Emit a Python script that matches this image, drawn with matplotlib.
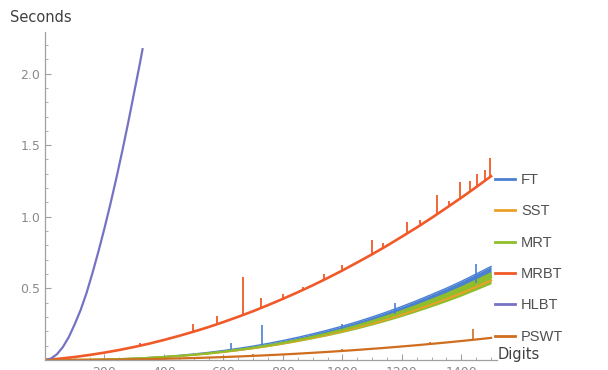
import numpy as np
import matplotlib
matplotlib.use('Agg')
import matplotlib.pyplot as plt
from matplotlib.ticker import MultipleLocator, FixedLocator

# 桁数 (50刻み)
digits = [0, 50, 100, 150, 200, 250, 300, 350, 400, 450, 500, 550, 600, 650, 700, 750,
          800, 850, 900, 950, 1000, 1050, 1100, 1150, 1200, 1250, 1300, 1350, 1400, 1450, 1500]

# MRT (帯の下端・中央・上端)
mrt_lo = [0, .0001, .0006, .0017, .0035, .006, .0095, .014, .0196, .0262, .0341, .0433, .0538, .0659,
          .0791, .094, .1108, .1288, .1487, .1696, .1926, .2175, .2444, .2734, .3043, .3373, .3722,
          .4081, .447, .489, .532]
mrt_mid = [0, .0001, .0007, .0018, .0038, .0065, .0103, .0152, .0213, .0285, .0371, .0471, .0585, .0716,
           .0860, .1022, .1204, .140, .1616, .1844, .2093, .2364, .2657, .2972, .3308, .3666, .4046,
           .4436, .4859, .5315, .578]
mrt_hi = [0, .0001, .0007, .0019, .0041, .007, .011, .0163, .0228, .0305, .0397, .0504, .0626, .0766,
          .092, .1094, .1288, .1498, .1729, .1973, .224, .2529, .2843, .318, .354, .3923, .4329,
          .4747, .5199, .5687, .618]
# FT 上端
ft_hi = [0, .0001, .0008, .002, .0043, .0073, .0116, .0172, .0241, .0322, .0419, .0532, .0661, .0809,
         .0972, .1155, .136, .1582, .1826, .2084, .2365, .2671, .3002, .3358, .3738, .4143, .4572,
         .5013, .5491, .6006, .653]
sst = [0, .0001, .0006, .0017, .0036, .0062, .0098, .0145, .0203, .0272, .0354, .0450, .0560, .0686,
       .0825, .0980, .1155, .134, .1550, .1770, .2010, .2270, .2550, .2850, .3170, .3520, .3880,
       .4260, .4660, .5100, .555]
mrbt = [0, .0094, .0211, .0352, .0515, .070, .091, .114, .140, .168, .198, .230, .265, .302, .341,
        .383, .427, .473, .521, .572, .625, .681, .738, .798, .861, .925, .992, 1.062, 1.133, 1.207, 1.283]
pswt = [0, .0001, .0004, .0010, .0018, .0030, .0045, .0063, .0084, .0110, .0137, .0170, .0205, .0245,
        .0289, .0336, .0387, .0442, .0502, .0565, .0633, .0705, .0781, .0860, .0945, .1033, .1127,
        .1224, .1326, .1433, .1543]

# HLBT (20刻み)
hlbt_digits = [0, 20, 40, 60, 80, 100, 120, 140, 160, 180, 200, 220, 240, 260, 280, 300, 320, 328]
hlbt = [0, 0.01, 0.04, 0.09, 0.16, 0.25, 0.35, 0.47, 0.61, 0.76, 0.92, 1.09, 1.27, 1.46, 1.66,
        1.87, 2.08, 2.17]

# スパイク (桁数, 上端)
mrbt_spike_x = [320, 420, 497, 578, 666, 726, 800, 867, 938, 1000, 1099, 1136, 1217, 1260, 1318, 1358,
                1395, 1430, 1452, 1480, 1496]
mrbt_spike_top = [0.12, 0.16, 0.25, 0.31, 0.577, 0.43, 0.46, 0.51, 0.60, 0.66, 0.84, 0.82, 0.96, 0.98,
                  1.15, 1.11, 1.24, 1.25, 1.30, 1.33, 1.41]
ft_spike_x = [625, 729, 1000, 1176, 1449]
ft_spike_top = [0.12, 0.243, 0.25, 0.40, 0.67]
pswt_spike_x = [700, 1000, 1294, 1439]
pswt_spike_top = [0.04, 0.075, 0.125, 0.215]

colors = {'FT': '#4a80d2', 'SST': '#eba02a', 'MRT': '#8ebe2c', 'MRBT': '#f05a28',
          'HLBT': '#7672c4', 'PSWT': '#cf6e1e'}

fig = plt.figure(figsize=(6.08, 3.70), dpi=100)
W, H = 608, 370
ax = fig.add_axes([45 / W, 10 / H, 452 / W, 328 / H])

# 描画順は FT, SST, MRT, MRBT, HLBT, PSWT
ax.fill_between(digits, mrt_mid, ft_hi, color=colors['FT'], lw=0)
ax.plot(digits, ft_hi, color=colors['FT'], lw=1.0, label='FT')
ax.vlines(ft_spike_x, np.interp(ft_spike_x, digits, mrt_mid), ft_spike_top, color=colors['FT'], lw=1.2)
ax.plot(digits, sst, color=colors['SST'], lw=1.5, label='SST')
ax.fill_between(digits, mrt_lo, mrt_hi, color=colors['MRT'], lw=0)
ax.plot(digits, mrt_mid, color=colors['MRT'], lw=1.5, label='MRT')
ax.plot(digits, mrbt, color=colors['MRBT'], lw=1.9, label='MRBT')
ax.vlines(mrbt_spike_x, np.interp(mrbt_spike_x, digits, mrbt), mrbt_spike_top, color=colors['MRBT'], lw=1.3)
ax.plot(hlbt_digits, hlbt, color=colors['HLBT'], lw=1.6, label='HLBT')
ax.plot(digits, pswt, color=colors['PSWT'], lw=1.6, label='PSWT')
ax.vlines(pswt_spike_x, np.interp(pswt_spike_x, digits, pswt), pswt_spike_top, color=colors['PSWT'], lw=1.2)

ax.set_xlim(0, 1520)
ax.set_ylim(0, 2.29)
for s in ['top', 'right']:
    ax.spines[s].set_visible(False)
for s in ['left', 'bottom']:
    ax.spines[s].set_color('#a0a0a0')
    ax.spines[s].set_linewidth(0.9)

ax.xaxis.set_major_locator(FixedLocator([200, 400, 600, 800, 1000, 1200, 1400]))
ax.xaxis.set_minor_locator(MultipleLocator(50))
ax.yaxis.set_major_locator(FixedLocator([0.5, 1.0, 1.5, 2.0]))
ax.yaxis.set_minor_locator(MultipleLocator(0.1))
ax.set_yticklabels(['0.5', '1.0', '1.5', '2.0'])
ax.tick_params(which='both', direction='in', color='#a0a0a0', labelcolor='#8a8a8a', labelsize=9)
ax.tick_params(which='major', length=4)
ax.tick_params(which='minor', length=2)
ax.tick_params(axis='x', pad=4)

fig.text(10 / W, 1 - 18 / H, 'Seconds', va='center', ha='left', fontsize=10.5, color='#404040')
fig.text(498 / W, 1 - 354 / H, 'Digits', va='center', ha='left', fontsize=10.5, color='#404040')

leg = ax.legend(loc='upper left', bbox_to_anchor=(495 / W, 1 - 173 / H), bbox_transform=fig.transFigure,
                frameon=False, handlelength=1.4, handletextpad=0.4, labelspacing=1.19,
                borderpad=0, borderaxespad=0,
                prop={'family': 'Liberation Sans', 'size': 10.5})
for t in leg.get_texts():
    t.set_color('#505050')
for l in leg.get_lines():
    l.set_linewidth(2.0)

fig.savefig('out.png', dpi=100)
